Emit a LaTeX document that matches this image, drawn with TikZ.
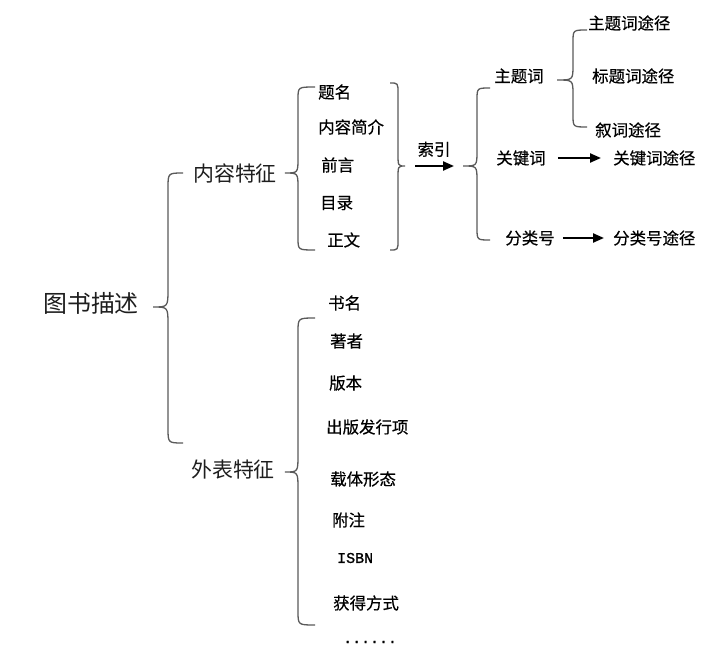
\documentclass[tikz,border=0pt]{standalone}
\usepackage{fontspec}
\setmainfont{Noto Sans CJK SC}
\newfontfamily\itemfont[FakeBold=0.4]{Noto Sans CJK SC}
\newfontfamily\codefont[FakeBold=1.2]{Liberation Mono}
\usepackage{tikz}
\usetikzlibrary{positioning,arrows.meta}
\definecolor{BInk}{HTML}{1E1E1E}
\definecolor{BGray}{HTML}{5A5A5A}
\tikzset{
  brc/.style={draw=BGray, line width=1.3bp},
  arr/.style={draw=black, line width=2.2bp, -{Triangle[length=11bp,width=9bp]}},
  toplabel/.style={font=\fontsize{24}{26}\selectfont, text=BInk, inner sep=0pt},
  sublabel/.style={font=\fontsize{21}{24}\selectfont, text=BInk, inner sep=0pt},
  leaf/.style={font=\itemfont\fontsize{16.5}{18}\selectfont, text=black, inner sep=0pt, anchor=west},
  code/.style={leaf, font=\codefont\fontsize{15}{17}\selectfont},
}
% curly brace: end x, stem x, tip x, top y, tip y, bottom y, radius
\newcommand{\curly}[7]{%
  \draw[brc] (#1,#4) .. controls (#2,#4) .. (#2,#4+#7) -- (#2,#5-#7-3)
    .. controls (#2,#5) .. (#3,#5) .. controls (#2,#5) .. (#2,#5+#7+3)
    -- (#2,#6-#7) .. controls (#2,#6) .. (#1,#6);}

\begin{document}
\begin{tikzpicture}[x=1bp, y=-1bp]
\useasboundingbox[fill=white] (0,0) rectangle (718,652);
% root and the two branches
\node[toplabel] (root) at (91,303) {图书描述};
\node[sublabel] (nr) at (235,173) {内容特征};
\node[sublabel] (wb) at (233,470) {外表特征};
\curly{183}{168}{153}{173}{307}{443}{15}
% content items
\curly{315}{298}{285}{87}{173}{250}{12}
\foreach \n/\t/\x/\y in {tm/题名/318/92, jj/内容简介/318/127, qy/前言/321/165,
                        ml/目录/320/203, zw/正文/327/240}{
  \node[leaf] (c-\n) at (\x,\y) {\t};
}
\curly{390}{398}{405}{83}{166}{250}{10}
\coordinate (cb) at (405,166);
% index
\coordinate (ib) at (463,166);
\draw[arr, shorten <=10bp, shorten >=9bp] (cb) -- (ib)
  node[midway, above=8bp, leaf, anchor=south] (sy) {索引};
\curly{490}{477}{463}{88}{166}{240}{12}
\node[leaf, anchor=center] (ztc) at (519,76) {主题词};
\node[leaf, anchor=center] (gjc) at (521,158) {关键词};
\node[leaf, anchor=center] (flh) at (530,238) {分类号};
\curly{587}{573}{557}{30}{80}{127}{12}
\node[leaf] (ztc-tj) at (588,23) {主题词途径};
\node[leaf] (btc-tj) at (592,76) {标题词途径};
\node[leaf] (xc-tj) at (595,130) {叙词途径};
\node[leaf] (gjc-tj) at (613,158) {关键词途径};
\node[leaf] (flh-tj) at (613,238) {分类号途径};
\draw[arr, shorten <=12bp, shorten >=12bp] (gjc.east) -- (gjc-tj.west);
\draw[arr, shorten <=8bp, shorten >=9bp] (flh.east) -- (flh-tj.west);
% appearance items
\curly{315}{298}{285}{318}{472}{625}{14}
\foreach \n/\t/\x/\y in {sm/书名/328/303, zz/著者/330/341, bb/版本/329/383,
                        cb/出版发行项/326/427, zt/载体形态/330/479, fz/附注/332/520,
                        hd/获得方式/333/603}{
  \node[leaf] (w-\n) at (\x,\y) {\t};
}
\node[code] (w-isbn) at (337,558) {ISBN};
\node[code] (w-more) at (343,642) {......};
\end{tikzpicture}
\end{document}
